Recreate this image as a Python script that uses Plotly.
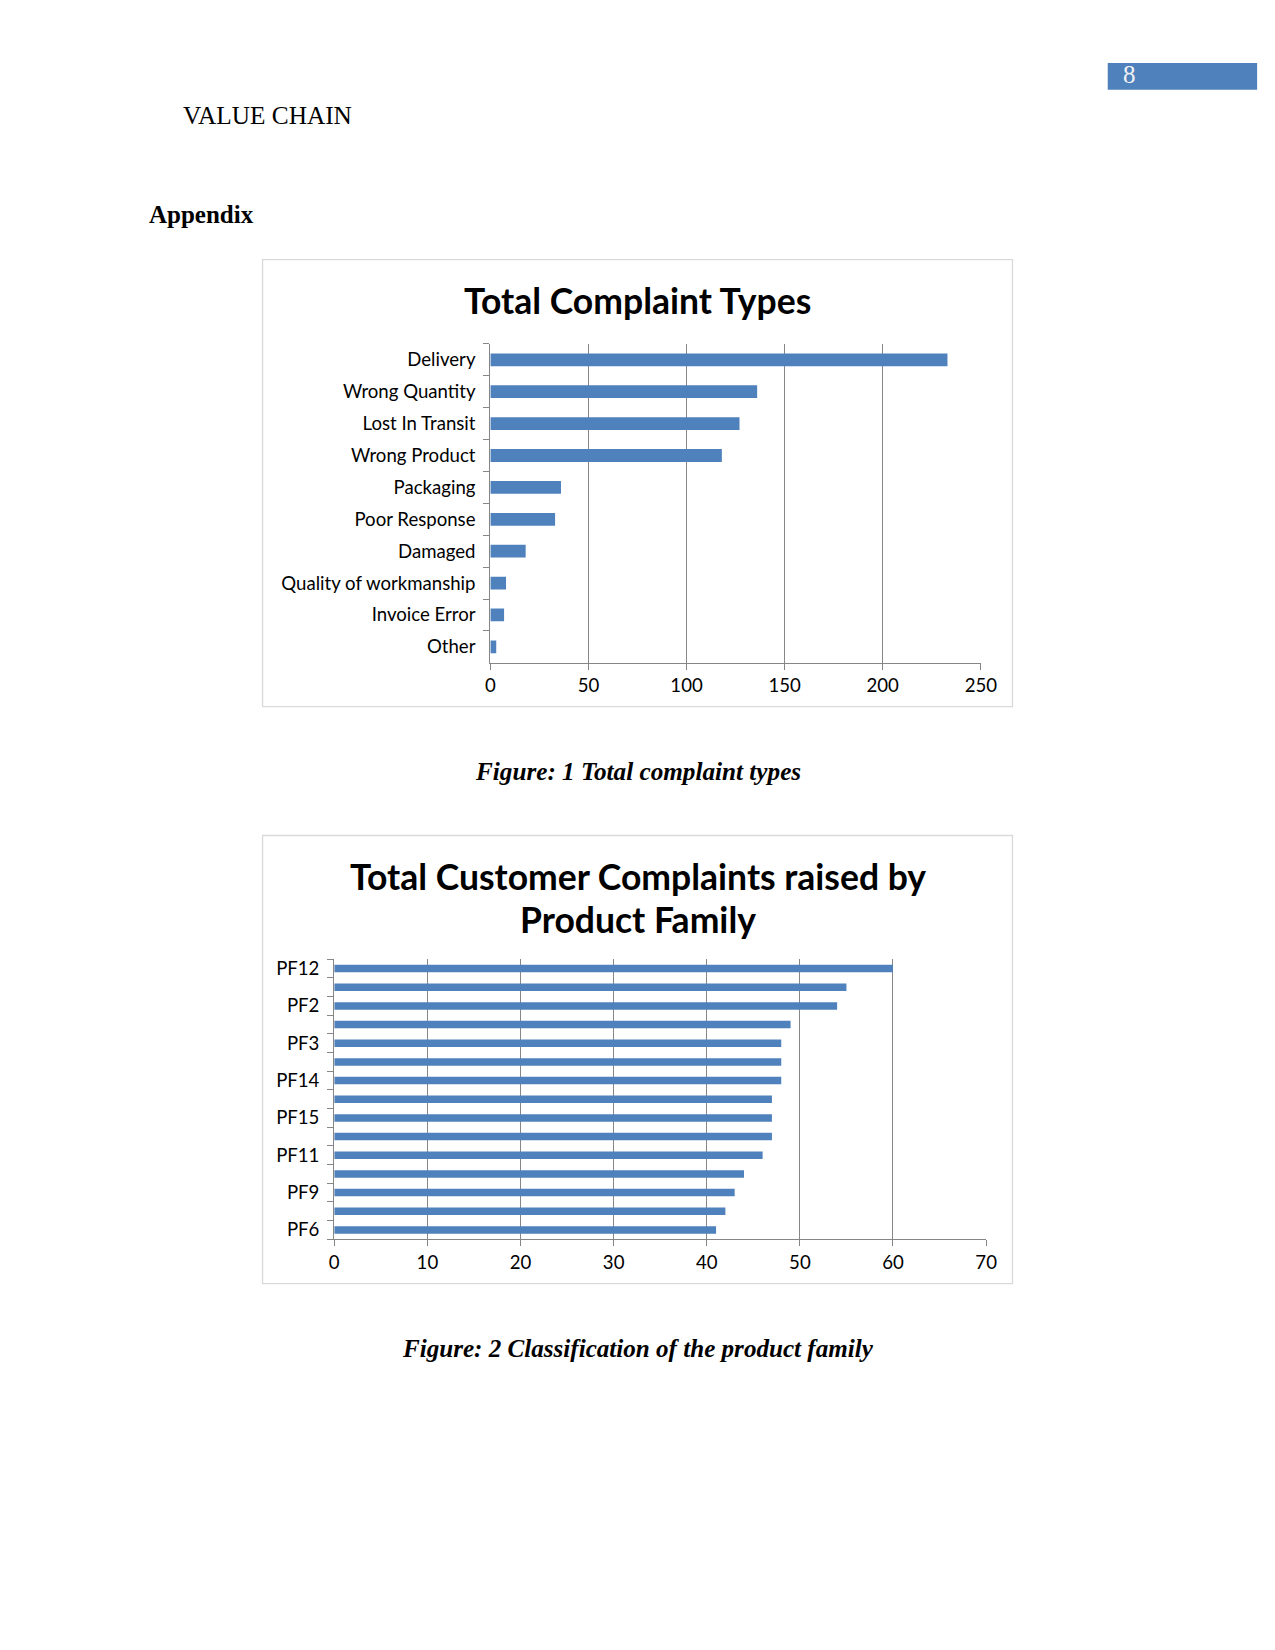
import plotly.graph_objects as go

# ---- data ----
complaint_types = ["Delivery", "Wrong Quantity", "Lost In Transit", "Wrong Product", "Packaging",
                   "Poor Response", "Damaged", "Quality of workmanship", "Invoice Error", "Other"]
complaint_counts = [233, 136, 127, 118, 36, 33, 18, 8, 7, 3]

# product families top -> bottom; only every other label is printed in the chart,
# the hidden names are guesses
pf_families = ["PF12", "PF1", "PF2", "PF4", "PF3", "PF5", "PF14", "PF7", "PF15", "PF8",
               "PF11", "PF10", "PF9", "PF13", "PF6"]
pf_counts = [60, 55, 54, 49, 48, 48, 48, 47, 47, 47, 46, 44, 43, 42, 41]
pf_shown_labels = ["PF12", "PF2", "PF3", "PF14", "PF15", "PF11", "PF9", "PF6"]

x1_ticks = [0, 50, 100, 150, 200, 250]
x2_ticks = [0, 10, 20, 30, 40, 50, 60, 70]

W, H = 1275, 1650
def px(x): return ((x - 6.1) / 0.981) / W
def py(y): return 1 - y / H

BAR = "#4F81BD"
GRID = "#878787"
AX = "#868686"
FONT = "Lato"

fig = go.Figure()
fig.add_trace(go.Bar(x=complaint_counts, y=complaint_types, orientation="h",
                     marker=dict(color=BAR, line=dict(width=0)), xaxis="x", yaxis="y",
                     showlegend=False))
fig.add_trace(go.Bar(x=pf_counts, y=pf_families, orientation="h",
                     marker=dict(color=BAR, line=dict(width=0)), xaxis="x2", yaxis="y2",
                     showlegend=False))

tickfont = dict(family=FONT, size=18.6, color="#000000")

fig.update_layout(
    width=W, height=H, margin=dict(l=0, r=0, t=0, b=0), autosize=False,
    paper_bgcolor="white", plot_bgcolor="white",
    bargap=0.6,
    xaxis=dict(domain=[px(490.2), px(979.4)], anchor="y", range=[0, 250],
               tickmode="array", tickvals=x1_ticks, showgrid=True, gridcolor=GRID, gridwidth=1.3,
               showline=True, linecolor=AX, linewidth=1.3, ticks="outside", ticklen=6,
               tickcolor=AX, tickfont=tickfont, zeroline=False, fixedrange=True),
    yaxis=dict(domain=[py(662), py(342.5)], anchor="x", type="category",
               categoryorder="array", categoryarray=complaint_types, autorange="reversed",
               tickson="boundaries", ticks="outside", ticklen=6, tickcolor=AX,
               showline=True, linecolor=AX, linewidth=1.3, showgrid=False,
               tickfont=tickfont, ticklabelstandoff=10),
    xaxis2=dict(domain=[px(334.5), px(984.7)], anchor="y2", range=[0, 70],
                tickmode="array", tickvals=x2_ticks, showgrid=True, gridcolor=GRID, gridwidth=1.3,
                showline=True, linecolor=AX, linewidth=1.3, ticks="outside", ticklen=6,
                tickcolor=AX, tickfont=tickfont, zeroline=False),
    yaxis2=dict(domain=[py(1239.5), py(959)], anchor="x2", type="category",
                categoryorder="array", categoryarray=pf_families, autorange="reversed",
                tickmode="array", tickvals=pf_families,
                ticktext=[f if f in pf_shown_labels else "" for f in pf_families],
                tickson="boundaries", ticks="outside", ticklen=6, tickcolor=AX,
                showline=True, linecolor=AX, linewidth=1.3, showgrid=False,
                tickfont=tickfont, ticklabelstandoff=10),
)

# chart frames and page-number block
fig.add_shape(type="rect", xref="paper", yref="paper", x0=px(263), x1=px(1011), y0=py(706), y1=py(258),
              line=dict(color="#D9D9D9", width=1.3), layer="below")
fig.add_shape(type="rect", xref="paper", yref="paper", x0=px(263), x1=px(1011), y0=py(1284), y1=py(835),
              line=dict(color="#D9D9D9", width=1.3), layer="below")
fig.add_shape(type="rect", xref="paper", yref="paper", x0=px(1106), x1=px(1255), y0=py(88), y1=py(61),
              line=dict(width=0), fillcolor=BAR, layer="below")

SERIF = "Liberation Serif"
def ann(text, x, y, size, family, xanchor="center", color="#000000"):
    fig.add_annotation(text=text, x=px(x), y=py(y), xref="paper", yref="paper",
                       xanchor=xanchor, yanchor="middle", showarrow=False,
                       font=dict(family=family, size=size, color=color))

ann("8", 1128, 73, 25, SERIF, color="#F2F2F2")
ann("VALUE CHAIN", 182, 113, 25.3, SERIF, xanchor="left")
ann("<b>Appendix</b>", 148, 213, 25, SERIF, xanchor="left")
ann("<b>Total Complaint Types</b>", 637, 299, 35.5, FONT)
ann("<b>Total Customer Complaints raised by</b>", 637, 876.5, 35.5, FONT)
ann("<b>Product Family</b>", 637, 919.5, 35.5, FONT)
ann("<b><i>Figure: 1 Total complaint types</i></b>", 637.5, 771, 25.2, SERIF)
ann("<b><i>Figure: 2 Classification of the product family</i></b>", 637.5, 1349, 25.1, SERIF)

fig.write_html("out.html", config={"responsive": False})
